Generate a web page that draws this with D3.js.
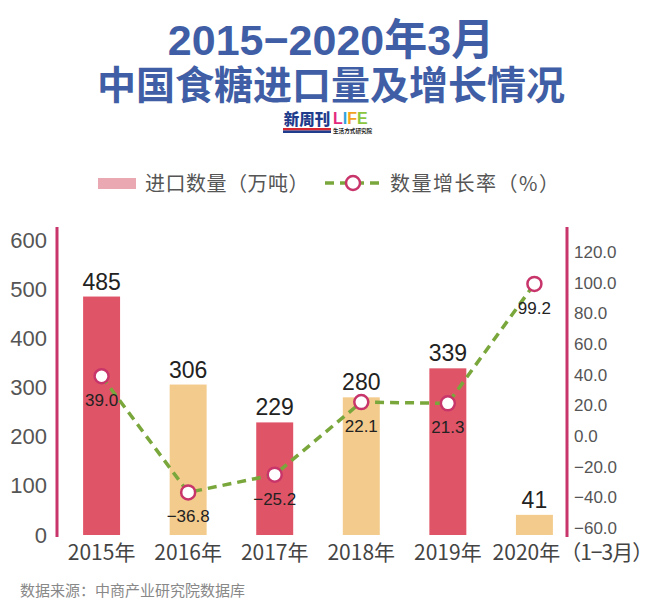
<!DOCTYPE html>
<html><head><meta charset="utf-8">
<script src="https://cdn.jsdelivr.net/npm/d3@7"></script>
<style>
html,body{margin:0;padding:0;background:#fff;}
svg{display:block;}
text{font-family:"Liberation Sans","Noto Sans CJK SC",sans-serif;}
</style></head><body>
<script>
// ---- data ----
const categories = ["2015年","2016年","2017年","2018年","2019年","2020年"];
const categoryNote = "（1−3月）";
const importVolume = [485, 306, 229, 280, 339, 41];          // 万吨
const growthRate = [39.0, -36.8, -25.2, 22.1, 21.3, 99.2];    // %
const leftTicks = [0, 100, 200, 300, 400, 500, 600];
const rightTicks = [-60, -40, -20, 0, 20, 40, 60, 80, 100, 120];
const titleLines = ["2015−2020年3月", "中国食糖进口量及增长情况"];
const legendLabels = ["进口数量（万吨）", "数量增长率（%）"];
const sourceText = "数据来源：中商产业研究院数据库";

const W = 660, H = 607;
const barColors = ["#e05467", "#f3cb8c"];
const axisColor = "#c8356a";
const lineColor = "#7aa73c";
const cjk = '"Noto Sans CJK SC","Liberation Sans",sans-serif';
const latin = '"Liberation Sans","Noto Sans CJK SC",sans-serif';

const svg = d3.select("body").append("svg").attr("width", W).attr("height", H);

// ---- title ----
svg.append("text").attr("x", 331).attr("y", 55).attr("text-anchor", "middle")
  .style("font-family", latin).style("font-weight", "bold").style("font-size", "43px")
  .attr("fill", "#3f5ea6").text(titleLines[0]);
svg.append("text").attr("x", 331).attr("y", 99).attr("text-anchor", "middle")
  .style("font-family", cjk).style("font-weight", "bold").style("font-size", "39px")
  .attr("fill", "#3f5ea6").text(titleLines[1]);

// ---- logo ----
const logo = svg.append("g").attr("transform", "translate(283,110)");
logo.append("text").attr("x", 24).attr("y", 15).attr("text-anchor", "middle")
  .style("font-family", cjk).style("font-weight", 900).style("font-size", "15.5px")
  .attr("fill", "#1f3d8c").text("新周刊");
logo.append("rect").attr("x", 0).attr("y", 18).attr("width", 48).attr("height", 2.5).attr("fill", "#d8262e");
logo.append("rect").attr("x", 0).attr("y", 20.5).attr("width", 48).attr("height", 2.5).attr("fill", "#1f3d8c");
const lifeColors = ["#e4297c", "#2fa4de", "#f3a21d", "#8cc63f"];
let lx = 50;
["L","I","F","E"].forEach((c, i) => {
  const t = logo.append("text").attr("x", lx).attr("y", 14)
    .style("font-family", latin).style("font-weight", "bold").style("font-size", "16px")
    .attr("fill", lifeColors[i]).text(c);
  lx += t.node().getComputedTextLength();
});
logo.append("text").attr("x", 50).attr("y", 22.5)
  .style("font-family", cjk).style("font-weight", "bold").style("font-size", "5.6px")
  .attr("fill", "#222").text("生活方式研究院");

// ---- legend ----
const lg = svg.append("g");
lg.append("rect").attr("x", 98).attr("y", 178).attr("width", 38).attr("height", 11).attr("fill", "#eaa9b2");
lg.append("text").attr("x", 145).attr("y", 191).style("font-family", cjk).style("font-size", "20px")
  .style("letter-spacing", "0.5px").attr("fill", "#555").text(legendLabels[0]);
lg.append("line").attr("x1", 325).attr("x2", 382).attr("y1", 183).attr("y2", 183)
  .attr("stroke", lineColor).attr("stroke-width", 3.5).attr("stroke-dasharray", "9,6");
lg.append("circle").attr("cx", 353).attr("cy", 183).attr("r", 7).attr("fill", "#fff")
  .attr("stroke", axisColor).attr("stroke-width", 2.5);
lg.append("text").attr("x", 390).attr("y", 191).style("font-family", cjk).style("font-size", "20px")
  .style("letter-spacing", "1.5px").attr("fill", "#555").text(legendLabels[1]);

// ---- scales ----
const x = d3.scaleBand().domain(categories).range([58, 578]).paddingInner(0.573).paddingOuter(0.29);
const yL = d3.scaleLinear().domain([0, 600]).range([535, 240]);
const yR = d3.scaleLinear().domain([-60, 120]).range([528, 252]);

// ---- axes ----
const axL = svg.append("g").attr("transform", "translate(57,0)")
  .call(d3.axisLeft(yL).tickValues(leftTicks).tickSize(0).tickPadding(10).tickFormat(d3.format("d")));
axL.select(".domain").remove();
axL.append("line").attr("x1", 0).attr("x2", 0).attr("y1", 227).attr("y2", 537)
  .attr("stroke", axisColor).attr("stroke-width", 3);
axL.selectAll(".tick text").style("font-family", latin).style("font-size", "22px").attr("fill", "#555");

const axR = svg.append("g").attr("transform", "translate(567,0)")
  .call(d3.axisRight(yR).tickValues(rightTicks).tickSize(0).tickPadding(7)
    .tickFormat(d => (d < 0 ? "−" : "") + Math.abs(d).toFixed(1)));
axR.select(".domain").remove();
axR.append("line").attr("x1", 0).attr("x2", 0).attr("y1", 227).attr("y2", 537)
  .attr("stroke", axisColor).attr("stroke-width", 3);
axR.selectAll(".tick text").style("font-family", latin).style("font-size", "17px").attr("fill", "#555");

// ---- bars ----
svg.append("g").selectAll("rect").data(importVolume).join("rect")
  .attr("x", (d, i) => x(categories[i]))
  .attr("width", x.bandwidth())
  .attr("y", d => yL(d))
  .attr("height", d => yL(0) - yL(d))
  .attr("fill", (d, i) => barColors[i % 2]);

svg.append("g").selectAll("text").data(importVolume).join("text")
  .attr("x", (d, i) => x(categories[i]) + x.bandwidth() / 2)
  .attr("y", d => yL(d) - 7)
  .attr("text-anchor", "middle")
  .style("font-family", latin).style("font-size", "23px").attr("fill", "#222")
  .text(d => d);

// ---- x labels ----
const xl = svg.append("g");
const nLast = categories.length - 1;
xl.selectAll("text").data(categories).join("text")
  .attr("x", (d, i) => x(d) + x.bandwidth() / 2 - (i === nLast ? 8 : 0))
  .attr("y", 560)
  .attr("text-anchor", "middle")
  .style("font-family", cjk).style("font-size", "21px").attr("fill", "#444")
  .text(d => d);
const lastLabel = xl.selectAll("text").filter((d, i) => i === nLast).node();
const bb = lastLabel.getBBox();
xl.append("text").attr("x", bb.x + bb.width).attr("y", 560)
  .style("font-family", cjk).style("font-size", "21px").style("letter-spacing", "-1px")
  .attr("fill", "#444").text(categoryNote);

// ---- growth line ----
const cx = (d, i) => x(categories[i]) + x.bandwidth() / 2;
const line = d3.line().x((d, i) => cx(d, i)).y(d => yR(d));
svg.append("path").datum(growthRate).attr("d", line).attr("fill", "none")
  .attr("stroke", lineColor).attr("stroke-width", 3.5).attr("stroke-dasharray", "9,6");
svg.append("g").selectAll("circle").data(growthRate).join("circle")
  .attr("cx", cx).attr("cy", d => yR(d)).attr("r", 7)
  .attr("fill", "#fff").attr("stroke", axisColor).attr("stroke-width", 2.5);
svg.append("g").selectAll("text").data(growthRate).join("text")
  .attr("x", cx).attr("y", d => yR(d) + 30)
  .attr("text-anchor", "middle")
  .style("font-family", latin).style("font-size", "17px").attr("fill", "#222")
  .text(d => (d < 0 ? "−" : "") + Math.abs(d).toFixed(1));

// ---- source ----
svg.append("text").attr("x", 20).attr("y", 596)
  .style("font-family", cjk).style("font-size", "15px").attr("fill", "#888").text(sourceText);
</script>
</body></html>
